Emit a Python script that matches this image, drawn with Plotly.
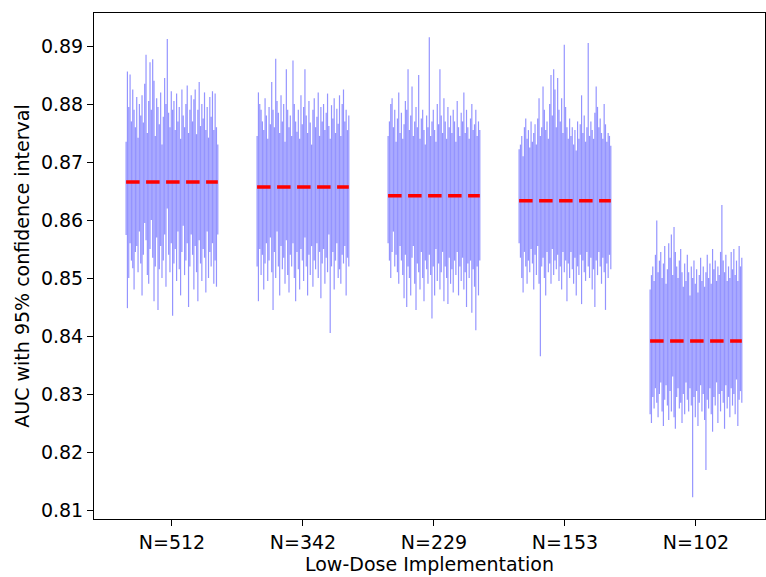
import numpy as np
import plotly.graph_objects as go

categories = ["N=512", "N=342", "N=229", "N=153", "N=102"]
mean_auc = [0.86655, 0.86569, 0.86419, 0.86333, 0.83914]

g1_hi = [0.8735, 0.8856, 0.8795, 0.8851, 0.8770, 0.8825, 0.8790, 0.8760, 0.8812, 0.8742, 0.8800, 0.8780, 0.8815, 0.8768, 0.8835, 0.8885, 0.8750, 0.8805, 0.8872, 0.8790, 0.8877, 0.8840, 0.8745, 0.8810, 0.8795, 0.8765, 0.8820, 0.8730, 0.8778, 0.8845, 0.8800, 0.8912, 0.8785, 0.8760, 0.8822, 0.8790, 0.8805, 0.8755, 0.8818, 0.8770, 0.8795, 0.8740, 0.8825, 0.8780, 0.8760, 0.8800, 0.8832, 0.8750, 0.8790, 0.8815, 0.8770, 0.8808, 0.8825, 0.8748, 0.8790, 0.8838, 0.8762, 0.8800, 0.8775, 0.8820, 0.8755, 0.8795, 0.8742, 0.8812, 0.8778, 0.8822, 0.8755, 0.8818, 0.8760, 0.8730]
g1_lo = [0.8574, 0.8448, 0.8500, 0.8560, 0.8530, 0.8517, 0.8480, 0.8545, 0.8555, 0.8510, 0.8580, 0.8525, 0.8470, 0.8540, 0.8595, 0.8565, 0.8505, 0.8490, 0.8550, 0.8600, 0.8535, 0.8460, 0.8520, 0.8570, 0.8445, 0.8515, 0.8555, 0.8500, 0.8530, 0.8575, 0.8485, 0.8620, 0.8540, 0.8510, 0.8560, 0.8435, 0.8525, 0.8550, 0.8495, 0.8580, 0.8515, 0.8470, 0.8545, 0.8590, 0.8505, 0.8530, 0.8560, 0.8450, 0.8520, 0.8575, 0.8540, 0.8480, 0.8555, 0.8510, 0.8460, 0.8565, 0.8525, 0.8495, 0.8550, 0.8535, 0.8475, 0.8580, 0.8500, 0.8545, 0.8520, 0.8560, 0.8490, 0.8530, 0.8485, 0.8575]

g2_hi = [0.8745, 0.8820, 0.8800, 0.8790, 0.8770, 0.8755, 0.8810, 0.8780, 0.8740, 0.8795, 0.8765, 0.8838, 0.8790, 0.8760, 0.8878, 0.8805, 0.8785, 0.8750, 0.8815, 0.8770, 0.8800, 0.8735, 0.8860, 0.8790, 0.8760, 0.8780, 0.8745, 0.8875, 0.8800, 0.8770, 0.8752, 0.8790, 0.8740, 0.8815, 0.8765, 0.8795, 0.8860, 0.8780, 0.8750, 0.8805, 0.8768, 0.8730, 0.8790, 0.8810, 0.8760, 0.8778, 0.8820, 0.8745, 0.8795, 0.8770, 0.8800, 0.8755, 0.8785, 0.8818, 0.8762, 0.8740, 0.8798, 0.8775, 0.8810, 0.8750, 0.8792, 0.8766, 0.8815, 0.8745, 0.8800, 0.8825, 0.8770, 0.8790, 0.8755, 0.8780]
g2_lo = [0.8520, 0.8460, 0.8550, 0.8505, 0.8540, 0.8480, 0.8525, 0.8560, 0.8495, 0.8530, 0.8570, 0.8510, 0.8445, 0.8545, 0.8500, 0.8580, 0.8520, 0.8470, 0.8555, 0.8515, 0.8535, 0.8490, 0.8565, 0.8505, 0.8475, 0.8540, 0.8520, 0.8560, 0.8500, 0.8460, 0.8545, 0.8515, 0.8480, 0.8550, 0.8530, 0.8495, 0.8570, 0.8520, 0.8470, 0.8540, 0.8505, 0.8555, 0.8485, 0.8530, 0.8515, 0.8560, 0.8500, 0.8545, 0.8465, 0.8525, 0.8550, 0.8490, 0.8535, 0.8510, 0.8575, 0.8405, 0.8520, 0.8545, 0.8480, 0.8530, 0.8560, 0.8500, 0.8515, 0.8490, 0.8540, 0.8525, 0.8555, 0.8470, 0.8535, 0.8520]

g3_hi = [0.8745, 0.8770, 0.8800, 0.8810, 0.8760, 0.8790, 0.8735, 0.8775, 0.8820, 0.8750, 0.8785, 0.8740, 0.8765, 0.8805, 0.8790, 0.8860, 0.8755, 0.8780, 0.8830, 0.8745, 0.8770, 0.8795, 0.8760, 0.8850, 0.8740, 0.8775, 0.8790, 0.8755, 0.8730, 0.8780, 0.8760, 0.8915, 0.8745, 0.8770, 0.8790, 0.8755, 0.8735, 0.8800, 0.8765, 0.8860, 0.8780, 0.8750, 0.8810, 0.8770, 0.8740, 0.8795, 0.8760, 0.8780, 0.8750, 0.8790, 0.8770, 0.8735, 0.8805, 0.8760, 0.8745, 0.8785, 0.8770, 0.8820, 0.8750, 0.8790, 0.8760, 0.8740, 0.8775, 0.8800, 0.8755, 0.8765, 0.8790, 0.8745, 0.8770, 0.8755]
g3_lo = [0.8560, 0.8530, 0.8500, 0.8545, 0.8580, 0.8520, 0.8540, 0.8510, 0.8490, 0.8555, 0.8530, 0.8505, 0.8465, 0.8540, 0.8450, 0.8520, 0.8500, 0.8470, 0.8535, 0.8555, 0.8490, 0.8445, 0.8525, 0.8510, 0.8480, 0.8545, 0.8500, 0.8460, 0.8530, 0.8515, 0.8490, 0.8540, 0.8505, 0.8430, 0.8520, 0.8470, 0.8550, 0.8495, 0.8525, 0.8480, 0.8510, 0.8545, 0.8460, 0.8520, 0.8500, 0.8455, 0.8535, 0.8490, 0.8515, 0.8475, 0.8530, 0.8505, 0.8545, 0.8470, 0.8520, 0.8495, 0.8535, 0.8480, 0.8510, 0.8450, 0.8525, 0.8500, 0.8530, 0.8440, 0.8515, 0.8485, 0.8410, 0.8520, 0.8470, 0.8530]

g4_hi = [0.8722, 0.8730, 0.8745, 0.8710, 0.8760, 0.8775, 0.8740, 0.8755, 0.8725, 0.8770, 0.8735, 0.8750, 0.8765, 0.8730, 0.8775, 0.8810, 0.8745, 0.8760, 0.8830, 0.8790, 0.8755, 0.8770, 0.8740, 0.8800, 0.8850, 0.8780, 0.8860, 0.8825, 0.8760, 0.8845, 0.8790, 0.8770, 0.8810, 0.8750, 0.8902, 0.8795, 0.8760, 0.8740, 0.8775, 0.8745, 0.8760, 0.8730, 0.8755, 0.8720, 0.8770, 0.8740, 0.8765, 0.8815, 0.8750, 0.8780, 0.8735, 0.8760, 0.8905, 0.8745, 0.8770, 0.8755, 0.8740, 0.8785, 0.8830, 0.8795, 0.8760, 0.8775, 0.8750, 0.8740, 0.8800, 0.8765, 0.8735, 0.8750, 0.8745, 0.8728]
g4_lo = [0.8560, 0.8535, 0.8500, 0.8475, 0.8545, 0.8520, 0.8490, 0.8530, 0.8510, 0.8550, 0.8525, 0.8480, 0.8540, 0.8505, 0.8555, 0.8490, 0.8365, 0.8520, 0.8535, 0.8500, 0.8470, 0.8545, 0.8510, 0.8525, 0.8490, 0.8550, 0.8505, 0.8530, 0.8515, 0.8540, 0.8495, 0.8520, 0.8480, 0.8545, 0.8510, 0.8530, 0.8460, 0.8525, 0.8500, 0.8545, 0.8515, 0.8490, 0.8535, 0.8470, 0.8520, 0.8505, 0.8540, 0.8455, 0.8530, 0.8510, 0.8495, 0.8545, 0.8520, 0.8500, 0.8535, 0.8480, 0.8515, 0.8450, 0.8530, 0.8505, 0.8545, 0.8520, 0.8490, 0.8535, 0.8510, 0.8445, 0.8525, 0.8500, 0.8540, 0.8515]

g5_hi = [0.8480, 0.8505, 0.8520, 0.8495, 0.8540, 0.8599, 0.8510, 0.8530, 0.8545, 0.8500, 0.8525, 0.8555, 0.8490, 0.8515, 0.8560, 0.8535, 0.8575, 0.8505, 0.8588, 0.8545, 0.8520, 0.8500, 0.8530, 0.8550, 0.8510, 0.8485, 0.8525, 0.8495, 0.8540, 0.8510, 0.8470, 0.8520, 0.8500, 0.8530, 0.8490, 0.8515, 0.8475, 0.8505, 0.8535, 0.8495, 0.8520, 0.8485, 0.8510, 0.8540, 0.8500, 0.8525, 0.8490, 0.8550, 0.8515, 0.8530, 0.8495, 0.8520, 0.8505, 0.8545, 0.8626, 0.8530, 0.8510, 0.8540, 0.8495, 0.8520, 0.8500, 0.8545, 0.8515, 0.8550, 0.8505, 0.8530, 0.8495, 0.8555, 0.8520, 0.8535]
g5_lo = [0.8265, 0.8250, 0.8295, 0.8275, 0.8310, 0.8285, 0.8260, 0.8300, 0.8320, 0.8270, 0.8245, 0.8290, 0.8315, 0.8280, 0.8255, 0.8305, 0.8270, 0.8330, 0.8260, 0.8240, 0.8295, 0.8310, 0.8275, 0.8285, 0.8250, 0.8300, 0.8265, 0.8320, 0.8290, 0.8270, 0.8310, 0.8280, 0.8122, 0.8295, 0.8260, 0.8305, 0.8245, 0.8285, 0.8315, 0.8270, 0.8300, 0.8255, 0.8169, 0.8290, 0.8275, 0.8310, 0.8265, 0.8235, 0.8295, 0.8280, 0.8320, 0.8250, 0.8300, 0.8270, 0.8305, 0.8285, 0.8240, 0.8315, 0.8275, 0.8295, 0.8260, 0.8310, 0.8280, 0.8300, 0.8265, 0.8325, 0.8245, 0.8290, 0.8305, 0.8285]

groups_hi = [g1_hi, g2_hi, g3_hi, g4_hi, g5_hi]
groups_lo = [g1_lo, g2_lo, g3_lo, g4_lo, g5_lo]

HALF = 0.35
FONT = "DejaVu Sans"

fig = go.Figure()

for i, (his, los) in enumerate(zip(groups_hi, groups_lo)):
    n = min(len(his), len(los))
    offs = np.linspace(-HALF, HALF, n)
    xs, ys = [], []
    for k in range(n):
        xs += [i + offs[k], i + offs[k], None]
        ys += [los[k], his[k], None]
    fig.add_trace(go.Scatter(x=xs, y=ys, mode="lines",
                             line=dict(color="rgba(0,0,255,0.42)", width=1.2),
                             hoverinfo="skip", showlegend=False))

for i, m in enumerate(mean_auc):
    fig.add_trace(go.Scatter(x=[i - HALF, i + HALF], y=[m, m], mode="lines",
                             line=dict(color="red", width=3.5, dash="13.5px,6.5px"),
                             showlegend=False))

axis_common = dict(showline=True, linecolor="black", linewidth=1, mirror=True,
                   ticks="outside", ticklen=6, tickwidth=1, tickcolor="black",
                   showgrid=False, zeroline=False,
                   tickfont=dict(family=FONT, size=19, color="black"))

fig.update_layout(
    width=766, height=577,
    margin=dict(l=94, r=1, t=13, b=58),
    paper_bgcolor="white", plot_bgcolor="white",
    xaxis=dict(range=[-0.595, 4.527], tickvals=list(range(len(categories))),
               ticktext=categories,
               title=dict(text="Low-Dose Implementation", font=dict(family=FONT, size=19, color="black"), standoff=4),
               **axis_common),
    yaxis=dict(range=[0.80845, 0.89569], tickvals=[0.81, 0.82, 0.83, 0.84, 0.85, 0.86, 0.87, 0.88, 0.89],
               tickformat=".2f",
               title=dict(text="AUC with 95% confidence interval", font=dict(family=FONT, size=19, color="black"), standoff=6),
               **axis_common),
)

fig.write_html("out.html")
